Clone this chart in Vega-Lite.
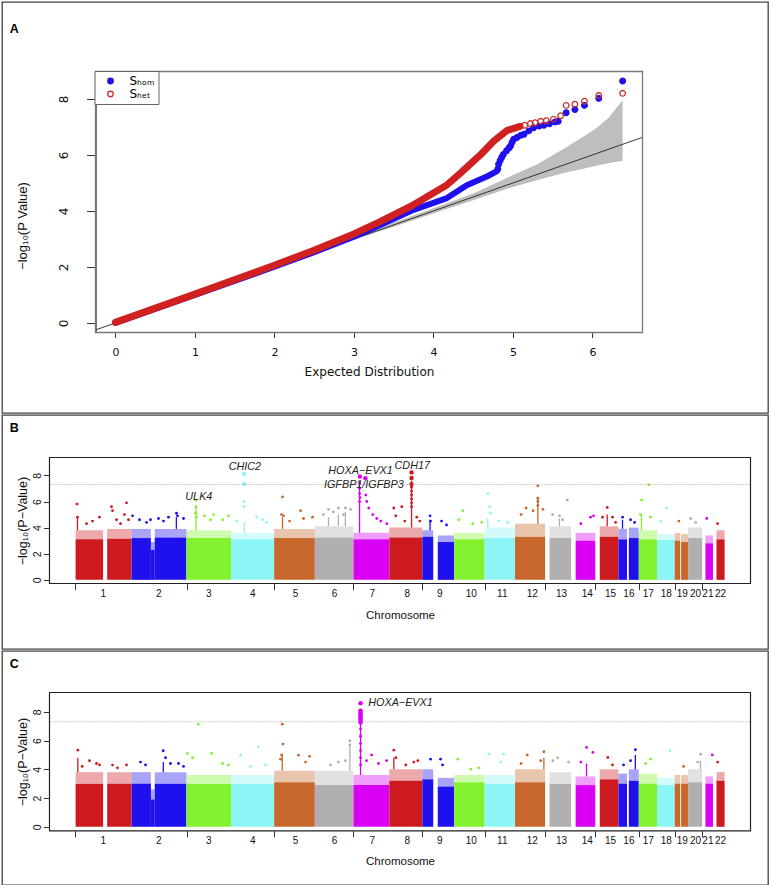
{
"$schema":"https://vega.github.io/schema/vega-lite/v6.json",
"padding":{"left":1,"top":1,"right":1,"bottom":1},
"background":"white",
"spacing":0,
"config":{
 "view":{"stroke":"#444","strokeWidth":1.3},
 "font":"Liberation Sans",
 "axis":{"grid":false,"labelFont":"Liberation Sans","titleFont":"Liberation Sans","titleFontWeight":"normal","labelColor":"#111","titleColor":"#111","tickColor":"#333","domainColor":"#333","labelFlush":false,"labelOverlap":false,"labelBound":false},
 "title":{"anchor":"start","frame":"group","offset":0,"fontSize":12.5,"fontWeight":"bold","font":"Liberation Sans","color":"#000","baseline":"alphabetic"}
},
"resolve":{"scale":{"x":"independent","y":"independent"}},
"datasets":{
 "band":[{"x":2.6,"lo":2.6,"hi":2.6},{"x":3.0,"lo":2.97,"hi":3.05},{"x":3.5,"lo":3.44,"hi":3.59},{"x":4.0,"lo":3.91,"hi":4.1},{"x":4.5,"lo":4.38,"hi":4.62},{"x":5.0,"lo":4.86,"hi":5.28},{"x":5.3,"lo":5.1,"hi":5.66},{"x":5.64,"lo":5.36,"hi":6.22},{"x":5.9,"lo":5.52,"hi":6.68},{"x":6.06,"lo":5.62,"hi":6.98},{"x":6.2,"lo":5.7,"hi":7.32},{"x":6.38,"lo":5.79,"hi":7.95}],
 "diag":[{"x":-0.25,"y":-0.25},{"x":6.63,"y":6.63}],
 "frameA":[{"x0":-0.25,"x1":6.63,"y0":-0.34,"y1":8.98}],
 "frameB":[{"x0":-115,"x1":2996,"y0":-0.28,"y1":9.37,"t":7.3}],
 "frameC":[{"x0":-115,"x1":2996,"y0":-0.28,"y1":9.34,"t":7.3}],
 "chroms":[{"n":"1","m":123.4,"z":0},{"n":"2","m":370.2,"z":0},{"n":"3","m":592.1,"z":0},{"n":"4","m":787.4,"z":0},{"n":"5","m":976.9,"z":0},{"n":"6","m":1150,"z":0},{"n":"7","m":1317.4,"z":0},{"n":"8","m":1472.7,"z":0},{"n":"9","m":1617.4,"z":0},{"n":"10","m":1756.8,"z":0},{"n":"11","m":1894.4,"z":0},{"n":"12","m":2027.5,"z":0},{"n":"13","m":2157.6,"z":0},{"n":"14","m":2271.6,"z":0},{"n":"15","m":2375,"z":0},{"n":"16","m":2456.3,"z":0},{"n":"17","m":2542.4,"z":0},{"n":"18","m":2622.3,"z":0},{"n":"19","m":2693.3,"z":0},{"n":"20","m":2752.3,"z":0},{"n":"21","m":2807,"z":0},{"n":"22","m":2863.3,"z":0}],
 "blueLine":[{"x":0,"y":0},{"x":1,"y":1},{"x":2,"y":2.01},{"x":2.5,"y":2.53},{"x":3.0,"y":3.08},{"x":3.33,"y":3.5},{"x":3.75,"y":4.04},{"x":4.17,"y":4.46},{"x":4.42,"y":4.92},{"x":4.68,"y":5.24},{"x":4.8,"y":5.42}],
 "redLine":[{"x":0,"y":0.02},{"x":1,"y":1.03},{"x":2,"y":2.06},{"x":2.5,"y":2.6},{"x":3.0,"y":3.18},{"x":3.33,"y":3.62},{"x":3.75,"y":4.22},{"x":4.17,"y":4.93},{"x":4.34,"y":5.35},{"x":4.59,"y":6.0},{"x":4.76,"y":6.5},{"x":4.93,"y":6.88},{"x":5.09,"y":7.02}],
 "qqDots":[
  {"s":"Sₕₒₘ","x":4.81,"y":5.5},{"s":"Sₕₒₘ","x":4.82,"y":5.67},{"s":"Sₕₒₘ","x":4.84,"y":5.8},{"s":"Sₕₒₘ","x":4.86,"y":5.92},{"s":"Sₕₒₘ","x":4.88,"y":6.02},{"s":"Sₕₒₘ","x":4.92,"y":6.15},{"s":"Sₕₒₘ","x":4.95,"y":6.25},{"s":"Sₕₒₘ","x":4.97,"y":6.32},{"s":"Sₕₒₘ","x":4.99,"y":6.45},{"s":"Sₕₒₘ","x":5.01,"y":6.56},{"s":"Sₕₒₘ","x":5.05,"y":6.62},{"s":"Sₕₒₘ","x":5.1,"y":6.7},{"s":"Sₕₒₘ","x":5.14,"y":6.74},{"s":"Sₕₒₘ","x":5.2,"y":6.86},{"s":"Sₕₒₘ","x":5.26,"y":6.97},{"s":"Sₕₒₘ","x":5.33,"y":7.03},{"s":"Sₕₒₘ","x":5.39,"y":7.06},{"s":"Sₕₒₘ","x":5.46,"y":7.11},{"s":"Sₕₒₘ","x":5.53,"y":7.18},{"s":"Sₕₒₘ","x":5.57,"y":7.2},{"s":"Sₕₒₘ","x":5.67,"y":7.51},{"s":"Sₕₒₘ","x":5.78,"y":7.62},{"s":"Sₕₒₘ","x":5.9,"y":7.77},{"s":"Sₕₒₘ","x":6.08,"y":8.02},{"s":"Sₕₒₘ","x":6.38,"y":8.64},
  {"s":"Sₕₑₜ","x":5.15,"y":7.06},{"s":"Sₕₑₜ","x":5.22,"y":7.12},{"s":"Sₕₑₜ","x":5.28,"y":7.15},{"s":"Sₕₑₜ","x":5.35,"y":7.2},{"s":"Sₕₑₜ","x":5.42,"y":7.22},{"s":"Sₕₑₜ","x":5.51,"y":7.28},{"s":"Sₕₑₜ","x":5.6,"y":7.4},{"s":"Sₕₑₜ","x":5.67,"y":7.77},{"s":"Sₕₑₜ","x":5.78,"y":7.81},{"s":"Sₕₑₜ","x":5.9,"y":7.92},{"s":"Sₕₑₜ","x":6.08,"y":8.12},{"s":"Sₕₑₜ","x":6.38,"y":8.2}
 ],
 "blocks":[
  {"c":1,"s":0.8,"e":123,"z":0,"hb":3.1,"fb":3.8,"hc":3.0,"fc":3.8},
  {"c":1,"s":141,"e":249,"z":0,"hb":3.15,"fb":3.9,"hc":3.0,"fc":3.8},
  {"c":2,"s":249.3,"e":335,"z":0,"hb":3.2,"fb":3.9,"hc":3.0,"fc":3.8},
  {"c":2,"s":335,"e":352,"z":0,"hb":2.3,"fb":2.9,"hc":1.9,"fc":2.6},
  {"c":2,"s":352,"e":492.5,"z":0,"hb":3.25,"fb":3.9,"hc":3.0,"fc":3.8},
  {"c":3,"s":492.5,"e":690.3,"z":0,"hb":3.2,"fb":3.8,"hc":3.0,"fc":3.6},
  {"c":4,"s":690.7,"e":881.5,"z":0,"hb":3.1,"fb":3.6,"hc":3.0,"fc":3.6},
  {"c":5,"s":882,"e":1062.4,"z":0,"hb":3.2,"fb":3.9,"hc":3.1,"fc":3.9},
  {"c":6,"s":1062.8,"e":1233.5,"z":0,"hb":3.25,"fb":4.1,"hc":2.9,"fc":3.9},
  {"c":7,"s":1234,"e":1392.6,"z":0,"hb":3.1,"fb":3.6,"hc":2.9,"fc":3.6},
  {"c":8,"s":1393,"e":1539,"z":0,"hb":3.25,"fb":4.0,"hc":3.2,"fc":4.0},
  {"c":9,"s":1539.5,"e":1588,"z":0,"hb":3.3,"fb":3.8,"hc":3.3,"fc":4.0},
  {"c":9,"s":1608,"e":1680.2,"z":0,"hb":2.9,"fb":3.4,"hc":2.8,"fc":3.4},
  {"c":10,"s":1680.6,"e":1815.7,"z":0,"hb":3.1,"fb":3.6,"hc":3.1,"fc":3.6},
  {"c":11,"s":1816.1,"e":1950.6,"z":0,"hb":3.2,"fb":4.0,"hc":3.0,"fc":3.6},
  {"c":12,"s":1951,"e":2084.5,"z":0,"hb":3.3,"fb":4.3,"hc":3.1,"fc":4.0},
  {"c":13,"s":2104,"e":2200,"z":0,"hb":3.2,"fb":4.1,"hc":3.0,"fc":3.8},
  {"c":14,"s":2220,"e":2307,"z":0,"hb":3.0,"fb":3.6,"hc":2.9,"fc":3.5},
  {"c":15,"s":2327,"e":2409.6,"z":0,"hb":3.3,"fb":4.1,"hc":3.3,"fc":4.0},
  {"c":16,"s":2410,"e":2448,"z":0,"hb":3.1,"fb":3.9,"hc":3.0,"fc":3.7},
  {"c":16,"s":2456,"e":2500,"z":0,"hb":3.2,"fb":4.0,"hc":3.2,"fc":4.0},
  {"c":17,"s":2500.4,"e":2581.2,"z":0,"hb":3.1,"fb":3.8,"hc":3.0,"fc":3.7},
  {"c":18,"s":2581.6,"e":2659.4,"z":0,"hb":3.05,"fb":3.5,"hc":2.9,"fc":3.4},
  {"c":19,"s":2659.7,"e":2684,"z":0,"hb":3.0,"fb":3.6,"hc":3.0,"fc":3.6},
  {"c":19,"s":2688,"e":2718.5,"z":0,"hb":2.9,"fb":3.5,"hc":3.0,"fc":3.6},
  {"c":20,"s":2718.8,"e":2781.5,"z":0,"hb":3.2,"fb":4.0,"hc":3.1,"fc":4.0},
  {"c":21,"s":2796,"e":2829.4,"z":0,"hb":2.8,"fb":3.4,"hc":3.0,"fc":3.5},
  {"c":22,"s":2845,"e":2881,"z":0,"hb":3.1,"fb":3.8,"hc":3.2,"fc":3.8}
 ],
 "spikesB":[{"c":1,"x":9,"lo":3.8,"hi":4.8},{"c":2,"x":448,"lo":3.9,"hi":4.8},{"c":3,"x":535.3,"lo":3.8,"hi":5.6},{"c":4,"x":749.2,"lo":3.6,"hi":4.4},{"c":5,"x":919,"lo":3.9,"hi":4.8},{"c":6,"x":1123,"lo":4.1,"hi":4.8},{"c":6,"x":1167,"lo":4.1,"hi":5.0},{"c":6,"x":1198,"lo":4.1,"hi":5.2},{"c":7,"x":1261,"lo":3.6,"hi":7.3},{"c":8,"x":1491.8,"lo":4.0,"hi":7.6},{"c":9,"x":1574,"lo":3.8,"hi":4.6},{"c":11,"x":1830,"lo":4.0,"hi":4.7},{"c":12,"x":2052.3,"lo":4.3,"hi":6.3},{"c":13,"x":2148,"lo":4.1,"hi":4.7},{"c":15,"x":2360,"lo":4.1,"hi":5.0},{"c":16,"x":2428,"lo":3.9,"hi":4.6},{"c":17,"x":2512,"lo":3.8,"hi":5.0}],
 "spikesC":[{"c":1,"x":10.7,"lo":3.8,"hi":4.8},{"c":2,"x":390,"lo":3.8,"hi":4.5},{"c":5,"x":918,"lo":3.9,"hi":5.0},{"c":6,"x":1218,"lo":3.9,"hi":5.7},{"c":7,"x":1265.4,"lo":3.6,"hi":7.2},{"c":8,"x":1413,"lo":4.0,"hi":4.8},{"c":12,"x":2079,"lo":4.0,"hi":4.8},{"c":14,"x":2268,"lo":3.5,"hi":4.4},{"c":16,"x":2485,"lo":4.0,"hi":5.0},{"c":20,"x":2774,"lo":4.0,"hi":4.6}],
 "ptsB":[
  {"c":1,"x":7.1,"v":5.8},{"c":1,"x":9.3,"v":4.8},{"c":1,"x":49.3,"v":4.3},{"c":1,"x":75.9,"v":4.5},{"c":1,"x":107,"v":4.8},{"c":1,"x":160.2,"v":5.6},{"c":1,"x":164.7,"v":5.3},{"c":1,"x":182.4,"v":4.6},{"c":1,"x":200.2,"v":4.3},{"c":1,"x":217.9,"v":5.0},{"c":1,"x":226.8,"v":5.9},{"c":1,"x":235.7,"v":4.6},
  {"c":2,"x":253.4,"v":4.9},{"c":2,"x":284.5,"v":4.6},{"c":2,"x":315.6,"v":4.4},{"c":2,"x":333.3,"v":4.6},{"c":2,"x":368.8,"v":4.7},{"c":2,"x":391,"v":4.5},{"c":2,"x":413.2,"v":4.8},{"c":2,"x":448.7,"v":5.1},{"c":2,"x":453.2,"v":4.9},{"c":2,"x":479.8,"v":4.7},
  {"c":3,"x":535.3,"v":6.1},{"c":3,"x":535.3,"v":5.6},{"c":3,"x":533,"v":5.1},{"c":3,"x":537,"v":4.8},{"c":3,"x":573,"v":4.9},{"c":3,"x":599.6,"v":4.6},{"c":3,"x":613,"v":5.0},{"c":3,"x":653,"v":4.6},{"c":3,"x":679.6,"v":4.9},
  {"c":4,"x":749.2,"v":6.0},{"c":4,"x":749.2,"v":5.6},{"c":4,"x":715,"v":4.5},{"c":4,"x":803.8,"v":4.8},{"c":4,"x":830.5,"v":4.6},{"c":4,"x":848.2,"v":4.4},
  {"c":5,"x":919.2,"v":6.35},{"c":5,"x":914.8,"v":5.0},{"c":5,"x":923.7,"v":4.9},{"c":5,"x":950.3,"v":4.5},{"c":5,"x":999.1,"v":5.3},{"c":5,"x":1012.4,"v":4.7},{"c":5,"x":1052.4,"v":4.8},
  {"c":6,"x":1100.8,"v":5.0},{"c":6,"x":1123,"v":5.4},{"c":6,"x":1145.2,"v":5.2},{"c":6,"x":1167.4,"v":5.5},{"c":6,"x":1198.5,"v":5.5},{"c":6,"x":1220.7,"v":5.4},{"c":6,"x":1189.6,"v":5.0},
  {"c":7,"x":1261,"v":7.4},{"c":7,"x":1261,"v":7.0},{"c":7,"x":1261,"v":6.6},{"c":7,"x":1263,"v":6.3},{"c":7,"x":1261,"v":6.0},{"c":7,"x":1288.6,"v":6.5},{"c":7,"x":1293,"v":6.0},{"c":7,"x":1301.9,"v":5.5},{"c":7,"x":1319.7,"v":5.0},{"c":7,"x":1337.4,"v":4.7},{"c":7,"x":1355.2,"v":4.5},{"c":7,"x":1381.9,"v":4.3},
  {"c":8,"x":1491.8,"v":7.1},{"c":8,"x":1491.8,"v":6.8},{"c":8,"x":1491.8,"v":6.5},{"c":8,"x":1491.8,"v":6.2},{"c":8,"x":1491.8,"v":5.9},{"c":8,"x":1491.8,"v":5.6},{"c":8,"x":1412.9,"v":5.5},{"c":8,"x":1421.8,"v":4.9},{"c":8,"x":1448.4,"v":5.6},{"c":8,"x":1461.7,"v":4.5},{"c":8,"x":1515,"v":4.8},{"c":8,"x":1528.3,"v":4.5},
  {"c":9,"x":1573.9,"v":4.9},{"c":9,"x":1576.1,"v":4.5},{"c":9,"x":1624.9,"v":4.5},{"c":9,"x":1647.1,"v":4.2},
  {"c":10,"x":1701.2,"v":4.6},{"c":10,"x":1719,"v":5.3},{"c":10,"x":1763.4,"v":4.3},{"c":10,"x":1803.3,"v":4.4},
  {"c":11,"x":1830.4,"v":6.6},{"c":11,"x":1838,"v":5.6},{"c":11,"x":1842.4,"v":5.1},{"c":11,"x":1877.9,"v":4.5},{"c":11,"x":1917.9,"v":4.4},
  {"c":12,"x":2052.3,"v":7.2},{"c":12,"x":2052.3,"v":6.25},{"c":12,"x":2052.3,"v":6.0},{"c":12,"x":2052.3,"v":5.7},{"c":12,"x":1977.9,"v":5.0},{"c":12,"x":2000.1,"v":5.5},{"c":12,"x":2031.2,"v":5.3},{"c":12,"x":2075,"v":5.4},
  {"c":13,"x":2182.8,"v":6.1},{"c":13,"x":2117.6,"v":5.0},{"c":13,"x":2148.7,"v":4.9},{"c":13,"x":2162,"v":4.6},
  {"c":14,"x":2286.2,"v":4.8},{"c":14,"x":2299.5,"v":4.9},{"c":14,"x":2243,"v":4.3},
  {"c":15,"x":2360.3,"v":5.55},{"c":15,"x":2339.5,"v":4.8},{"c":15,"x":2383.8,"v":4.8},{"c":15,"x":2397.1,"v":4.4},
  {"c":16,"x":2428.3,"v":4.8},{"c":16,"x":2463.8,"v":4.6},{"c":16,"x":2481.6,"v":4.4},
  {"c":17,"x":2545,"v":7.28},{"c":17,"x":2512.7,"v":6.1},{"c":17,"x":2508.2,"v":5.0},{"c":17,"x":2552.6,"v":4.8},
  {"c":18,"x":2623.6,"v":5.5},{"c":18,"x":2597,"v":4.5},
  {"c":19,"x":2678,"v":4.5},
  {"c":20,"x":2730.7,"v":4.7},{"c":20,"x":2752.9,"v":4.4},
  {"c":21,"x":2801.9,"v":4.7},
  {"c":22,"x":2850,"v":4.3}
 ],
 "bigB":[{"c":4,"x":749.2,"v":8.13},{"c":4,"x":749.2,"v":7.36},{"c":7,"x":1262.3,"v":7.92},{"c":7,"x":1287,"v":7.79},{"c":8,"x":1491.8,"v":8.23},{"c":8,"x":1491.8,"v":7.8},{"c":8,"x":1491.8,"v":7.33}],
 "ptsC":[
  {"c":1,"x":10.7,"v":5.33},{"c":1,"x":30,"v":4.2},{"c":1,"x":62.6,"v":4.59},{"c":1,"x":93.7,"v":4.4},{"c":1,"x":107,"v":4.3},{"c":1,"x":164.7,"v":4.29},{"c":1,"x":186.9,"v":4.1},{"c":1,"x":226.8,"v":4.3},
  {"c":2,"x":389.7,"v":5.29},{"c":2,"x":289,"v":4.5},{"c":2,"x":311,"v":4.3},{"c":2,"x":399.9,"v":4.8},{"c":2,"x":422.1,"v":4.4},{"c":2,"x":457.6,"v":4.4},{"c":2,"x":479.8,"v":4.2},
  {"c":3,"x":545,"v":7.14},{"c":3,"x":497.5,"v":5.1},{"c":3,"x":604,"v":5.1},{"c":3,"x":519.8,"v":4.8},{"c":3,"x":653,"v":4.4},{"c":3,"x":679.6,"v":4.3},
  {"c":4,"x":811.4,"v":5.56},{"c":4,"x":732.8,"v":4.98},{"c":4,"x":843.8,"v":4.3},{"c":4,"x":777.3,"v":4.2},
  {"c":5,"x":917.9,"v":7.14},{"c":5,"x":921.4,"v":5.75},{"c":5,"x":914.8,"v":5.0},{"c":5,"x":910.4,"v":4.7},{"c":5,"x":990.2,"v":4.98},{"c":5,"x":1039,"v":4.9},{"c":5,"x":1021.3,"v":4.5},
  {"c":6,"x":1217.9,"v":5.98},{"c":6,"x":1217.9,"v":5.7},{"c":6,"x":1198.5,"v":4.6},{"c":6,"x":1131.9,"v":4.3},{"c":6,"x":1167.4,"v":4.5},
  {"c":7,"x":1314.2,"v":5.0},{"c":7,"x":1292,"v":4.6},{"c":7,"x":1345.3,"v":4.4},{"c":7,"x":1381,"v":4.6},{"c":7,"x":1265.4,"v":6.8},{"c":7,"x":1265.4,"v":6.3},{"c":7,"x":1265.4,"v":5.8},{"c":7,"x":1265.4,"v":5.3},{"c":7,"x":1265.4,"v":4.8},{"c":7,"x":1265.4,"v":4.3},
  {"c":8,"x":1413.2,"v":5.33},{"c":8,"x":1421.8,"v":4.8},{"c":8,"x":1501.7,"v":4.5},{"c":8,"x":1519.5,"v":4.6},{"c":8,"x":1466.2,"v":4.3},
  {"c":9,"x":1576.1,"v":4.7},{"c":9,"x":1620.5,"v":4.7},{"c":9,"x":1629.4,"v":4.3},
  {"c":10,"x":1696.7,"v":4.7},{"c":10,"x":1754.4,"v":4.0},{"c":10,"x":1789.9,"v":4.1},
  {"c":11,"x":1834.9,"v":5.05},{"c":11,"x":1900.1,"v":5.05},{"c":11,"x":1886.9,"v":4.5},
  {"c":12,"x":2005.3,"v":5.0},{"c":12,"x":2079,"v":5.22},{"c":12,"x":2065.1,"v":4.6},{"c":12,"x":1977.9,"v":4.4},
  {"c":13,"x":2118.9,"v":4.6},{"c":13,"x":2139.8,"v":4.8},{"c":13,"x":2188.6,"v":4.5},
  {"c":14,"x":2268.5,"v":5.52},{"c":14,"x":2296.5,"v":5.17},{"c":14,"x":2243,"v":4.5},
  {"c":15,"x":2363,"v":4.82},{"c":15,"x":2383.8,"v":4.3},
  {"c":16,"x":2485.2,"v":5.36},{"c":16,"x":2463.8,"v":4.6},{"c":16,"x":2432.7,"v":4.3},
  {"c":17,"x":2552.6,"v":4.7},{"c":17,"x":2530.4,"v":4.4},
  {"c":18,"x":2638.2,"v":5.29},
  {"c":19,"x":2699,"v":4.2},
  {"c":20,"x":2774.6,"v":5.05},{"c":20,"x":2761.3,"v":4.5},
  {"c":21,"x":2826.5,"v":5.0},
  {"c":22,"x":2850,"v":4.5}
 ],
 "bigC":[{"c":7,"x":1265.4,"v":8.6},{"c":7,"x":1265.4,"v":8.08},{"c":7,"x":1265.4,"v":7.95},{"c":7,"x":1265.4,"v":7.82},{"c":7,"x":1265.4,"v":7.7},{"c":7,"x":1265.4,"v":7.58},{"c":7,"x":1265.4,"v":7.46},{"c":7,"x":1265.4,"v":7.34},{"c":7,"x":1265.4,"v":7.25}],
 "labB":[{"x":547.7,"y":6.31,"t":"ULK4"},{"x":751.9,"y":8.61,"t":"CHIC2"},{"x":1265.4,"y":8.36,"t":"HOXA−EVX1"},{"x":1280.1,"y":7.23,"t":"IGFBP1/IGFBP3"},{"x":1494.9,"y":8.69,"t":"CDH17"}],
 "labC":[{"x":1299.6,"y":8.58,"t":"HOXA−EVX1"}]
},
"vconcat":[
 {
  "width":766,"height":411,
  "title":{"text":"A","dx":7.8,"dy":37},
  "layer":[
   {"data":{"name":"band"},"mark":{"type":"area","color":"#bebebe","opacity":1},
    "encoding":{
     "x":{"field":"x","type":"quantitative","scale":{"domain":[-0.25,6.63],"range":[93.5,640.5],"nice":false,"zero":false},
      "axis":{"values":[0,1,2,3,4,5,6],"format":"d","offset":-80.5,"tickSize":5,"labelPadding":9,"labelFontSize":11,"labelFont":"DejaVu Sans","title":"Expected Distribution","titleFont":"DejaVu Sans","titleFontSize":12,"titlePadding":9,"domain":false}},
     "y":{"field":"lo","type":"quantitative","scale":{"domain":[-0.34,8.98],"range":[330.5,69.5],"nice":false,"zero":false},
      "axis":{"values":[0,2,4,6,8],"format":"d","offset":-93.5,"tickSize":9,"labelAngle":270,"labelAlign":"center","labelBaseline":"bottom","labelPadding":16,"labelFontSize":12,"labelFont":"DejaVu Sans","title":"−log₁₀(P Value)","titleFontSize":13,"titleX":-73,"titleY":223.5,"titleBaseline":"middle","titleAlign":"center","titleAngle":270,"domain":true,"domainColor":"#555","domainWidth":1.6}},
     "y2":{"field":"hi"}}},
   {"data":{"name":"diag"},"mark":{"type":"line","color":"#222","strokeWidth":0.9},
    "encoding":{"x":{"field":"x","type":"quantitative"},"y":{"field":"y","type":"quantitative"}}},
   {"data":{"name":"blueLine"},"mark":{"type":"line","color":"#1f10ee","strokeWidth":6,"strokeCap":"round","strokeJoin":"round"},
    "encoding":{"x":{"field":"x","type":"quantitative"},"y":{"field":"y","type":"quantitative"}}},
   {"data":{"name":"redLine"},"mark":{"type":"line","color":"#d02020","strokeWidth":7,"strokeCap":"round","strokeJoin":"round"},
    "encoding":{"x":{"field":"x","type":"quantitative"},"y":{"field":"y","type":"quantitative"}}},
   {"data":{"name":"qqDots"},"mark":{"type":"point","shape":"circle","size":32,"strokeWidth":1.3,"opacity":1},
    "encoding":{"x":{"field":"x","type":"quantitative"},"y":{"field":"y","type":"quantitative"},
     "fill":{"field":"s","type":"nominal","scale":{"domain":["Sₕₒₘ","Sₕₑₜ"],"range":["#1f10ee","transparent"]},
      "legend":{"orient":"none","legendX":92.5,"legendY":69,"title":null,"strokeColor":"#666","fillColor":"white","padding":4,"labelFontSize":12,"labelFont":"DejaVu Sans","symbolSize":30,"symbolStrokeWidth":1.3,"rowPadding":1,"labelOffset":13,"symbolOffset":6}},
     "stroke":{"field":"s","type":"nominal","scale":{"domain":["Sₕₒₘ","Sₕₑₜ"],"range":["#1f10ee","#c8302e"]},
      "legend":{"orient":"none","legendX":92.5,"legendY":69,"title":null,"strokeColor":"#666","fillColor":"white","padding":4,"labelFontSize":12,"labelFont":"DejaVu Sans","symbolSize":30,"symbolStrokeWidth":1.3,"rowPadding":1,"labelOffset":13,"symbolOffset":6}}}},
   {"data":{"name":"frameA"},"mark":{"type":"rect","fill":"transparent","stroke":"#777","strokeWidth":1.3},
    "encoding":{"x":{"field":"x0","type":"quantitative"},"x2":{"field":"x1"},"y":{"field":"y0","type":"quantitative"},"y2":{"field":"y1"}}}
  ]
 },
 {
  "width":766,"height":234,
  "title":{"text":"B","dx":7.8,"dy":23.7},
  "layer":[
   {"data":{"name":"blocks"},"mark":{"type":"rect"},
    "encoding":{
     "x":{"field":"s","type":"quantitative","scale":{"domain":[-115,2996],"range":[47.5,748.5],"nice":false,"zero":false},
      "axis":{"values":[0,249,493,691,882,1063,1234,1393,1539,1680,1816,1951,2085,2200,2307,2410,2500,2581,2660,2719,2782,2830],"labels":false,
       "offset":-65.5,"tickSize":6,"title":"Chromosome","titleFontSize":11.5,"titlePadding":19.5,"domain":false}},
     "x2":{"field":"e"},
     "y":{"field":"z","type":"quantitative","scale":{"domain":[-0.28,9.37],"range":[168.5,42.5],"nice":false,"zero":false},
      "axis":{"values":[0,2,4,6,8],"format":"d","offset":-47.5,"tickSize":6,"labelAngle":270,"labelAlign":"center","labelBaseline":"bottom","labelPadding":1,"labelFontSize":10.5,"title":"−log₁₀(P−Value)","titleFontSize":12.5,"titleX":-27.3,"titleY":105.5,"titleBaseline":"middle","titleAlign":"center","titleAngle":270,"domain":false}},
     "y2":{"field":"hb"},
     "color":{"field":"c","type":"nominal","scale":{"domain":[1,2,3,4,5,6,7,8,9,10,11,12,13,14,15,16,17,18,19,20,21,22],"range":["#cc1a1f","#1f10ee","#82f22f","#8cf5f5","#c8672b","#b0b0b0","#d900f5","#cc1a1f","#1f10ee","#82f22f","#8cf5f5","#c8672b","#b0b0b0","#d900f5","#cc1a1f","#1f10ee","#82f22f","#8cf5f5","#c8672b","#b0b0b0","#d900f5","#cc1a1f"]},"legend":null}}},
   {"data":{"name":"blocks"},"mark":{"type":"rect","opacity":0.38},
    "encoding":{"x":{"field":"s","type":"quantitative"},"x2":{"field":"e"},"y":{"field":"hb","type":"quantitative"},"y2":{"field":"fb"},"color":{"field":"c","type":"nominal","legend":null}}},
   {"data":{"name":"spikesB"},"mark":{"type":"rule","strokeWidth":1.3},
    "encoding":{"x":{"field":"x","type":"quantitative"},"y":{"field":"lo","type":"quantitative"},"y2":{"field":"hi"},"color":{"field":"c","type":"nominal","legend":null}}},
   {"data":{"name":"ptsB"},"mark":{"type":"point","filled":true,"size":8,"opacity":1},
    "encoding":{"x":{"field":"x","type":"quantitative"},"y":{"field":"v","type":"quantitative"},"color":{"field":"c","type":"nominal","legend":null}}},
   {"data":{"name":"bigB"},"mark":{"type":"point","filled":true,"size":20,"opacity":1},
    "encoding":{"x":{"field":"x","type":"quantitative"},"y":{"field":"v","type":"quantitative"},"color":{"field":"c","type":"nominal","legend":null}}},
   {"data":{"name":"frameB"},"mark":{"type":"rule","color":"#999","strokeDash":[1,2],"strokeWidth":1},
    "encoding":{"x":{"field":"x0","type":"quantitative"},"x2":{"field":"x1"},"y":{"field":"t","type":"quantitative"}}},
   {"data":{"name":"frameB"},"mark":{"type":"rect","fill":"transparent","stroke":"#222","strokeWidth":1.2},
    "encoding":{"x":{"field":"x0","type":"quantitative"},"x2":{"field":"x1"},"y":{"field":"y0","type":"quantitative"},"y2":{"field":"y1"}}},
   {"data":{"name":"chroms"},"mark":{"type":"text","font":"Liberation Sans","fontSize":10,"color":"#111","align":"center","baseline":"middle","dy":14.4},
    "encoding":{"x":{"field":"m","type":"quantitative"},"y":{"field":"z","type":"quantitative"},"text":{"field":"n","type":"nominal"}}},
   {"data":{"name":"labB"},"mark":{"type":"text","font":"Liberation Sans","fontStyle":"italic","fontSize":10.8,"color":"#222","align":"center","baseline":"middle"},
    "encoding":{"x":{"field":"x","type":"quantitative"},"y":{"field":"y","type":"quantitative"},"text":{"field":"t","type":"nominal"}}}
  ]
 },
 {
  "width":766,"height":234,
  "title":{"text":"C","dx":7.8,"dy":23.7},
  "layer":[
   {"data":{"name":"blocks"},"mark":{"type":"rect"},
    "encoding":{
     "x":{"field":"s","type":"quantitative","scale":{"domain":[-115,2996],"range":[47.5,748.5],"nice":false,"zero":false},
      "axis":{"values":[0,249,493,691,882,1063,1234,1393,1539,1680,1816,1951,2085,2200,2307,2410,2500,2581,2660,2719,2782,2830],"labels":false,
       "offset":-54.2,"tickSize":6,"title":"Chromosome","titleFontSize":11.5,"titlePadding":18,"domain":false}},
     "x2":{"field":"e"},
     "y":{"field":"z","type":"quantitative","scale":{"domain":[-0.28,9.34],"range":[179.8,41.5],"nice":false,"zero":false},
      "axis":{"values":[0,2,4,6,8],"format":"d","offset":-47.5,"tickSize":6,"labelAngle":270,"labelAlign":"center","labelBaseline":"bottom","labelPadding":1,"labelFontSize":10.5,"title":"−log₁₀(P−Value)","titleFontSize":12.5,"titleX":-27.3,"titleY":110.65,"titleBaseline":"middle","titleAlign":"center","titleAngle":270,"domain":false}},
     "y2":{"field":"hc"},
     "color":{"field":"c","type":"nominal","scale":{"domain":[1,2,3,4,5,6,7,8,9,10,11,12,13,14,15,16,17,18,19,20,21,22],"range":["#cc1a1f","#1f10ee","#82f22f","#8cf5f5","#c8672b","#b0b0b0","#d900f5","#cc1a1f","#1f10ee","#82f22f","#8cf5f5","#c8672b","#b0b0b0","#d900f5","#cc1a1f","#1f10ee","#82f22f","#8cf5f5","#c8672b","#b0b0b0","#d900f5","#cc1a1f"]},"legend":null}}},
   {"data":{"name":"blocks"},"mark":{"type":"rect","opacity":0.38},
    "encoding":{"x":{"field":"s","type":"quantitative"},"x2":{"field":"e"},"y":{"field":"hc","type":"quantitative"},"y2":{"field":"fc"},"color":{"field":"c","type":"nominal","legend":null}}},
   {"data":{"name":"spikesC"},"mark":{"type":"rule","strokeWidth":1.3},
    "encoding":{"x":{"field":"x","type":"quantitative"},"y":{"field":"lo","type":"quantitative"},"y2":{"field":"hi"},"color":{"field":"c","type":"nominal","legend":null}}},
   {"data":{"name":"ptsC"},"mark":{"type":"point","filled":true,"size":8,"opacity":1},
    "encoding":{"x":{"field":"x","type":"quantitative"},"y":{"field":"v","type":"quantitative"},"color":{"field":"c","type":"nominal","legend":null}}},
   {"data":{"name":"bigC"},"mark":{"type":"point","filled":true,"size":20,"opacity":1},
    "encoding":{"x":{"field":"x","type":"quantitative"},"y":{"field":"v","type":"quantitative"},"color":{"field":"c","type":"nominal","legend":null}}},
   {"data":{"name":"frameC"},"mark":{"type":"rule","color":"#999","strokeDash":[1,2],"strokeWidth":1},
    "encoding":{"x":{"field":"x0","type":"quantitative"},"x2":{"field":"x1"},"y":{"field":"t","type":"quantitative"}}},
   {"data":{"name":"frameC"},"mark":{"type":"rect","fill":"transparent","stroke":"#222","strokeWidth":1.2},
    "encoding":{"x":{"field":"x0","type":"quantitative"},"x2":{"field":"x1"},"y":{"field":"y0","type":"quantitative"},"y2":{"field":"y1"}}},
   {"data":{"name":"chroms"},"mark":{"type":"text","font":"Liberation Sans","fontSize":10,"color":"#111","align":"center","baseline":"middle","dy":14},
    "encoding":{"x":{"field":"m","type":"quantitative"},"y":{"field":"z","type":"quantitative"},"text":{"field":"n","type":"nominal"}}},
   {"data":{"name":"labC"},"mark":{"type":"text","font":"Liberation Sans","fontStyle":"italic","fontSize":10.8,"color":"#222","align":"left","baseline":"middle"},
    "encoding":{"x":{"field":"x","type":"quantitative"},"y":{"field":"y","type":"quantitative"},"text":{"field":"t","type":"nominal"}}}
  ]
 }
]
}
